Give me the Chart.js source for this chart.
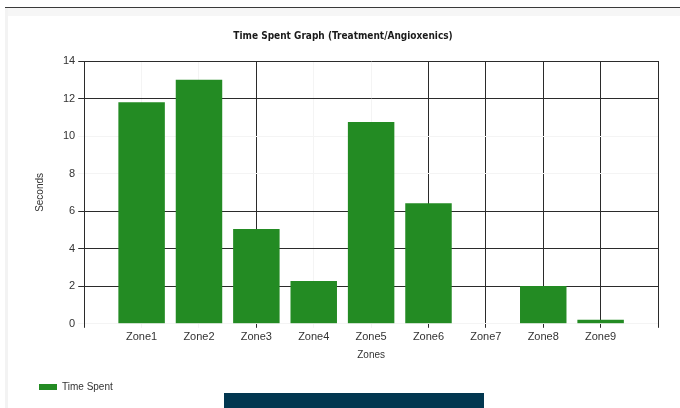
<!DOCTYPE html>
<html>
<head>
<meta charset="utf-8">
<script src="https://cdn.jsdelivr.net/npm/chart.js@4/dist/chart.umd.min.js"></script>
<style>
  html, body { margin: 0; padding: 0; background: #ffffff; }
  body { width: 680px; height: 408px; position: relative; overflow: hidden; }
  #topline { position: absolute; left: 5px; top: 7px; width: 675px; height: 1px; background: #3a3a3a; }
  #topband { position: absolute; left: 5px; top: 8px; width: 675px; height: 8px; background: #f6f6f6; }
  #leftband { position: absolute; left: 5px; top: 8px; width: 3px; height: 400px; background: #f3f3f3; }
  #bottombar { position: absolute; left: 224px; top: 393px; width: 260px; height: 15px; background: #023750; }
  #wrap { position: absolute; left: 0; top: 0; width: 680px; height: 408px; }
</style>
</head>
<body>
<div id="topline"></div>
<div id="topband"></div>
<div id="leftband"></div>
<div id="wrap"><canvas id="c" width="680" height="408"></canvas></div>
<div id="bottombar"></div>
<script>
const zones = ['Zone1', 'Zone2', 'Zone3', 'Zone4', 'Zone5', 'Zone6', 'Zone7', 'Zone8', 'Zone9'];
const timeSpent = [11.8, 13.0, 5.05, 2.28, 10.75, 6.42, 0, 2.02, 0.21];
const yTickValues = [0, 2, 4, 6, 8, 10, 12, 14];
const seriesName = 'Time Spent';
const chartTitle = 'Time Spent Graph (Treatment/Angioxenics)';
const xTitle = 'Zones';
const yTitle = 'Seconds';

const labels = [''].concat(zones, ['']);
const values = [null].concat(timeSpent, [null]);

const DARK = '#2b2b2b';
const FAINT = '#f4f4f4';
const darkXIdx = [0, 3, 6, 7, 8, 9, 10];
const darkYVals = [2, 4, 6, 12, 14];
const FONT = "'Liberation Sans', Arial, sans-serif";
const TFONT = "'Liberation Sans Narrow', 'DejaVu Sans Condensed', 'Liberation Sans', Arial, sans-serif";

new Chart(document.getElementById('c'), {
  type: 'bar',
  data: {
    labels: labels,
    datasets: [{
      label: seriesName,
      data: values,
      backgroundColor: '#238b23',
      borderWidth: 0,
      barPercentage: 0.81,
      categoryPercentage: 1.0
    }]
  },
  options: {
    responsive: false,
    animation: false,
    devicePixelRatio: 1,
    layout: { padding: { left: 28, right: 22, top: 28, bottom: 6 } },
    plugins: {
      title: {
        display: true,
        text: chartTitle,
        color: '#1a1a1a',
        font: { family: TFONT, size: 10, weight: 'bold' },
        padding: { top: 2, bottom: 19 }
      },
      legend: {
        display: true,
        position: 'bottom',
        align: 'start',
        labels: {
          boxWidth: 18,
          boxHeight: 6,
          color: '#333',
          font: { family: FONT, size: 10 },
          padding: 11
        }
      },
      tooltip: { enabled: false }
    },
    scales: {
      x: {
        type: 'category',
        offset: false,
        border: { display: false },
        grid: {
          offset: false,
          color: (ctx) => darkXIdx.includes(ctx.index) ? DARK : FAINT,
          lineWidth: 1,
          tickLength: 4,
          drawTicks: true
        },
        ticks: {
          autoSkip: false,
          maxRotation: 0,
          color: '#333',
          font: { family: FONT, size: 11 },
          padding: 3
        },
        title: {
          display: true,
          text: xTitle,
          color: '#333',
          font: { family: FONT, size: 10 },
          padding: { top: 2, bottom: 10 }
        }
      },
      y: {
        min: 0,
        max: 14,
        afterBuildTicks: (scale) => { scale.ticks = yTickValues.map(v => ({ value: v })); },
        border: { display: true, color: DARK, width: 1 },
        grid: {
          color: (ctx) => (ctx.tick && darkYVals.includes(ctx.tick.value)) ? DARK : FAINT,
          lineWidth: 1,
          tickLength: 6
        },
        ticks: {
          color: '#333',
          font: { family: FONT, size: 11 },
          padding: 3
        },
        title: {
          display: true,
          text: yTitle,
          color: '#333',
          font: { family: FONT, size: 10 },
          padding: { top: 6, bottom: 14 }
        }
      }
    }
  }
});
</script>
</body>
</html>
